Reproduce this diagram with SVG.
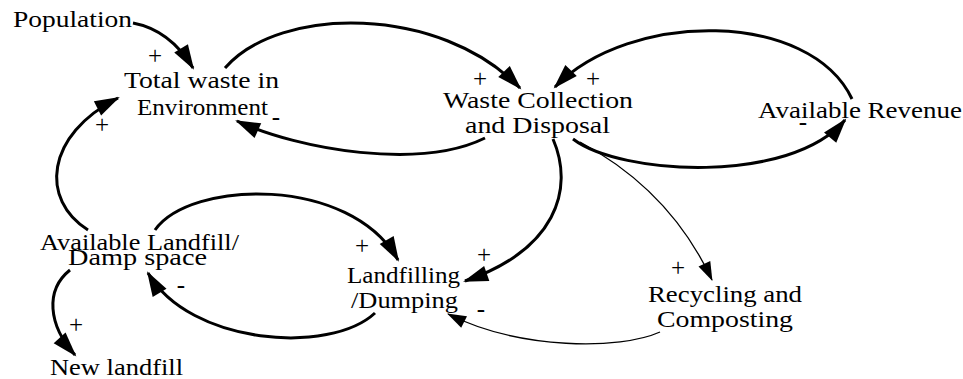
<svg xmlns="http://www.w3.org/2000/svg" width="963" height="379" viewBox="0 0 963 379">
<defs>
<style>
.lbl{font-family:"Liberation Serif","Times New Roman",serif;font-size:23px;fill:#000}
.sg{font-family:"Liberation Serif","Times New Roman",serif;font-size:25px;fill:#000;text-anchor:middle}
.thick{fill:none;stroke:#000;stroke-width:3;marker-end:url(#ah)}
.thin{fill:none;stroke:#000;stroke-width:1.3;marker-end:url(#at)}
</style>
<marker id="ah" markerUnits="userSpaceOnUse" markerWidth="25" markerHeight="16" refX="23" refY="8" orient="auto" overflow="visible">
<path d="M0,0 L25,8 L0,16 z" fill="#000"/>
</marker>
<marker id="at" markerUnits="userSpaceOnUse" markerWidth="19" markerHeight="13" refX="18" refY="6.5" orient="auto" overflow="visible">
<path d="M0,0 L19,6.5 L0,13 z" fill="#000"/>
</marker>
</defs>
<rect width="963" height="379" fill="#fff"/>

<g id="connectors">
<path id="e1" class="thick" d="M133,23 Q170,30 193,68"/>
<path id="e2" class="thick" d="M225,68 C280,5 440,5 520,88"/>
<path id="e3" class="thick" d="M485,138 C420,170 300,150 237,121"/>
<path id="e4" class="thick" d="M852,99 C810,10 630,10 555,87"/>
<path id="e5" class="thick" d="M573,139 C620,175 790,185 845,120"/>
<path id="e6" class="thick" d="M553,139 C575,190 555,250 465,281"/>
<path id="e7" class="thin" d="M580,142 Q670,190 712,280"/>
<path id="e8" class="thin" d="M660,332 C620,350 520,350 448,314"/>
<path id="e9" class="thick" d="M375,313 C330,355 190,345 148,273"/>
<path id="e10" class="thick" d="M155,230 C190,180 350,175 398,260"/>
<path id="e11" class="thick" d="M88,230 C40,200 45,135 118,98"/>
<path id="e12" class="thick" d="M70,270 C45,290 48,325 75,355"/>
</g>

<g id="signs">
<text class="sg" x="155" y="64">+</text>
<text class="sg" x="480" y="87">+</text>
<text class="sg" x="593" y="87">+</text>
<text class="sg" x="276" y="125">-</text>
<text class="sg" x="102" y="133">+</text>
<text class="sg" x="803" y="130">-</text>
<text class="sg" x="362" y="254">+</text>
<text class="sg" x="484" y="263">+</text>
<text class="sg" x="481" y="317">-</text>
<text class="sg" x="181" y="293">-</text>
<text class="sg" x="76" y="333">+</text>
<text class="sg" x="678" y="276">+</text>
</g>

<g id="population">
<text class="lbl" x="13" y="27" textLength="119" lengthAdjust="spacingAndGlyphs">Population</text>
</g>
<g id="total-waste">
<text class="lbl" x="124" y="88" textLength="155" lengthAdjust="spacingAndGlyphs">Total waste in</text>
<text class="lbl" x="137" y="115" textLength="131" lengthAdjust="spacingAndGlyphs">Environment</text>
</g>
<g id="waste-collection">
<text class="lbl" x="443" y="108" textLength="190" lengthAdjust="spacingAndGlyphs">Waste Collection</text>
<text class="lbl" x="465" y="133" textLength="145" lengthAdjust="spacingAndGlyphs">and Disposal</text>
</g>
<g id="available-revenue">
<text class="lbl" x="758" y="118" textLength="204" lengthAdjust="spacingAndGlyphs">Available Revenue</text>
</g>
<g id="available-landfill">
<text class="lbl" x="40" y="250" textLength="199" lengthAdjust="spacingAndGlyphs">Available Landfill/</text>
<text class="lbl" x="68" y="265" textLength="139" lengthAdjust="spacingAndGlyphs">Damp space</text>
</g>
<g id="landfilling">
<text class="lbl" x="347" y="283" textLength="113" lengthAdjust="spacingAndGlyphs">Landfilling</text>
<text class="lbl" x="351" y="308" textLength="107" lengthAdjust="spacingAndGlyphs">/Dumping</text>
</g>
<g id="recycling">
<text class="lbl" x="648" y="302" textLength="154" lengthAdjust="spacingAndGlyphs">Recycling and</text>
<text class="lbl" x="657" y="327" textLength="136" lengthAdjust="spacingAndGlyphs">Composting</text>
</g>
<g id="new-landfill">
<text class="lbl" x="50" y="375" textLength="133" lengthAdjust="spacingAndGlyphs">New landfill</text>
</g>
</svg>
